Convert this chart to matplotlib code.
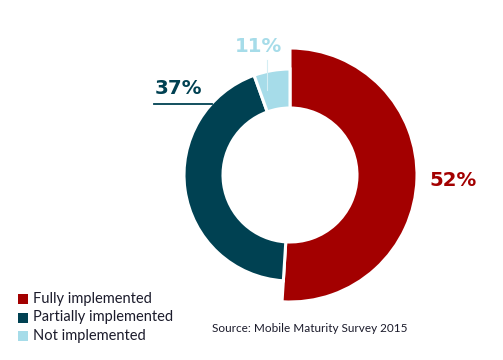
import matplotlib.pyplot as plt
from matplotlib.patches import Rectangle

# Data
categories = ['Fully implemented', 'Partially implemented', 'Not implemented']
pct_labels = ['52%', '37%', '11%']
# slice shares as drawn in the source graphic
drawn_share = [51.0, 43.5, 5.5]
colors = ['#a30000', '#004152', '#a6dce9']
source = 'Source: Mobile Maturity Survey 2015'

plt.rcParams['font.family'] = ['Lato', 'DejaVu Sans']

W, H = 503, 360
fig = plt.figure(figsize=(W / 100, H / 100), dpi=100)
ax = fig.add_axes([0, 0, 1, 1])

cx, cy = 290, H - 175
r_in, r_out, r_big = 67, 106, 127

wedges, _ = ax.pie(drawn_share, colors=colors, startangle=90, counterclock=False,
                   center=(cx, cy), radius=r_out, frame=True,
                   wedgeprops=dict(width=r_out - r_in, edgecolor='white', linewidth=2.2))
# the "fully implemented" slice is drawn thicker
wedges[0].set_radius(r_big)
wedges[0].set_width(r_big - r_in)
ax.set_xlim(0, W)
ax.set_ylim(0, H)
ax.set_aspect('equal')
ax.axis('off')

# percentage labels
pct_font = dict(family='DejaVu Sans', fontsize=14.2, fontweight='bold',
                ha='center', va='center')
ax.text(453, H - 180, pct_labels[0], color=colors[0], **pct_font)
ax.text(178, H - 89, pct_labels[1], color=colors[1], **pct_font)
ax.plot([154, 212], [H - 104, H - 104], color=colors[1], lw=1.3)
ax.text(258, H - 46, pct_labels[2], color=colors[2], **pct_font)
ax.plot([267, 267], [H - 60, H - 90], color='#d5eef4', lw=0.8)

# legend
for i, (name, c) in enumerate(zip(categories, colors)):
    y = H - (299 + i * 18.5)
    ax.add_patch(Rectangle((18, y - 5), 10, 10, color=c, lw=0))
    ax.text(33, y, name, fontsize=10.5, color='#1b1b2b', va='center', ha='left')

ax.text(212, H - 328, source, fontsize=8.5, color='#1b1b2b', va='center', ha='left')

fig.savefig('out.png', dpi=100)
